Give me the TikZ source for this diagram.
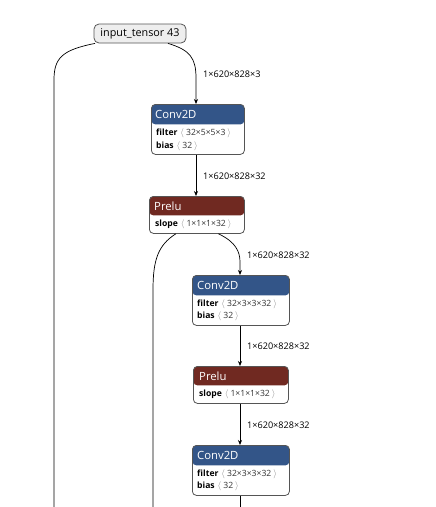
\documentclass[tikz,border=0pt]{standalone}
\usepackage{fontspec}
\setmainfont{Open Sans}
\usetikzlibrary{arrows.meta}
\definecolor{convc}{HTML}{335588}
\definecolor{actc}{HTML}{702921}
\definecolor{inc}{HTML}{EEEEEE}
\definecolor{brd}{HTML}{555555}
\definecolor{valc}{HTML}{333333}
\definecolor{brkc}{HTML}{888888}
\tikzset{
  opbox/.style={draw=brd, line width=0.8pt, rounded corners=4pt, fill=white, anchor=north west, inner sep=0pt},
  convbox/.style={opbox, path picture={\fill[convc] (path picture bounding box.north west) rectangle ([yshift=-20pt]path picture bounding box.north east);}},
  actbox/.style={opbox, path picture={\fill[actc] (path picture bounding box.north west) rectangle ([yshift=-19pt]path picture bounding box.north east);}},
  hdr/.style={text=white, font=\fontsize{11.3}{12}\selectfont, anchor=west, inner sep=0pt},
  attr/.style={font=\fontsize{8.6}{9}\selectfont, anchor=west, inner sep=0pt},
  lbl/.style={font=\fontsize{9.1}{10}\selectfont, anchor=west, inner sep=0pt},
  edge/.style={draw=black, line width=0.7pt},
  aedge/.style={edge, -{Stealth[length=5pt,width=4pt]}},
}
\newcommand{\av}[2]{\textbf{#1}\hspace{3pt}{\color{brkc}$\langle$}\hspace{2pt}{\color{valc}#2}\hspace{2pt}{\color{brkc}$\rangle$}}
\begin{document}
\begin{tikzpicture}[x=1pt,y=-1pt]
\useasboundingbox (0,0) rectangle (436,507);
% input
\node[draw=brd, line width=0.8pt, fill=inc, rounded corners=5pt, minimum width=92pt, minimum height=19pt, inner sep=0pt, font=\fontsize{10.8}{12}\selectfont] (in) at (140,33.5) {input\_tensor 43};
% Conv2D 1
\node[convbox, minimum width=93pt, minimum height=50pt] (c1) at (151,104) {};
\node[hdr] (c1h) at (155,114) {Conv2D};
\node[attr] (c1a) at (156,133) {\av{filter}{32×5×5×3}};
\node[attr] (c1b) at (156,146) {\av{bias}{32}};
% Prelu 1
\node[actbox, minimum width=95pt, minimum height=37pt] (p1) at (149,196) {};
\node[hdr] (p1h) at (154,206) {Prelu};
\node[attr] (p1a) at (155,224) {\av{slope}{1×1×1×32}};
% Conv2D 2
\node[convbox, minimum width=97pt, minimum height=50pt] (c2) at (192,275) {};
\node[hdr] (c2h) at (197,285) {Conv2D};
\node[attr] (c2a) at (197,304) {\av{filter}{32×3×3×32}};
\node[attr] (c2b) at (197,316) {\av{bias}{32}};
% Prelu 2
\node[actbox, minimum width=95pt, minimum height=37pt] (p2) at (193,366) {};
\node[hdr] (p2h) at (199,376) {Prelu};
\node[attr] (p2a) at (199,394) {\av{slope}{1×1×1×32}};
% Conv2D 3
\node[convbox, minimum width=97pt, minimum height=50pt] (c3) at (192,445) {};
\node[hdr] (c3h) at (197,455) {Conv2D};
\node[attr] (c3a) at (197,474) {\av{filter}{32×3×3×32}};
\node[attr] (c3b) at (197,486) {\av{bias}{32}};
% free ends
\coordinate (e1) at (54,507);
\coordinate (e2) at (153,507);
\coordinate (e3) at (240,507);
% edges
\draw[edge] ([xshift=-45pt]in.south) .. controls (62,50) and (54,58) .. (54,80) -- (e1);
\draw[aedge] ([xshift=28pt]in.south) .. controls (190,50) and (196,58) .. (196,78) -- (c1.north -| 196,0);
\draw[aedge] (c1.south -| 196,0) -- (p1.north -| 196,0);
\draw[edge] ([xshift=-21pt]p1.south) .. controls (158,245) and (153,260) .. (153,290) -- (e2);
\draw[aedge] ([xshift=21.5pt]p1.south) .. controls (236,242) and (240,252) .. (240,262) -- (c2.north -| 240,0);
\draw[aedge] (c2.south -| 240,0) -- (p2.north -| 240,0);
\draw[aedge] (p2.south -| 240,0) -- (c3.north -| 240,0);
\draw[edge] (c3.south -| 240,0) -- (e3);
% labels
\node[lbl] (l1) at (203,74) {1×620×828×3};
\node[lbl] (l2) at (203,176) {1×620×828×32};
\node[lbl] (l3) at (247,255) {1×620×828×32};
\node[lbl] (l4) at (247,346) {1×620×828×32};
\node[lbl] (l5) at (247,425) {1×620×828×32};
\end{tikzpicture}
\end{document}
